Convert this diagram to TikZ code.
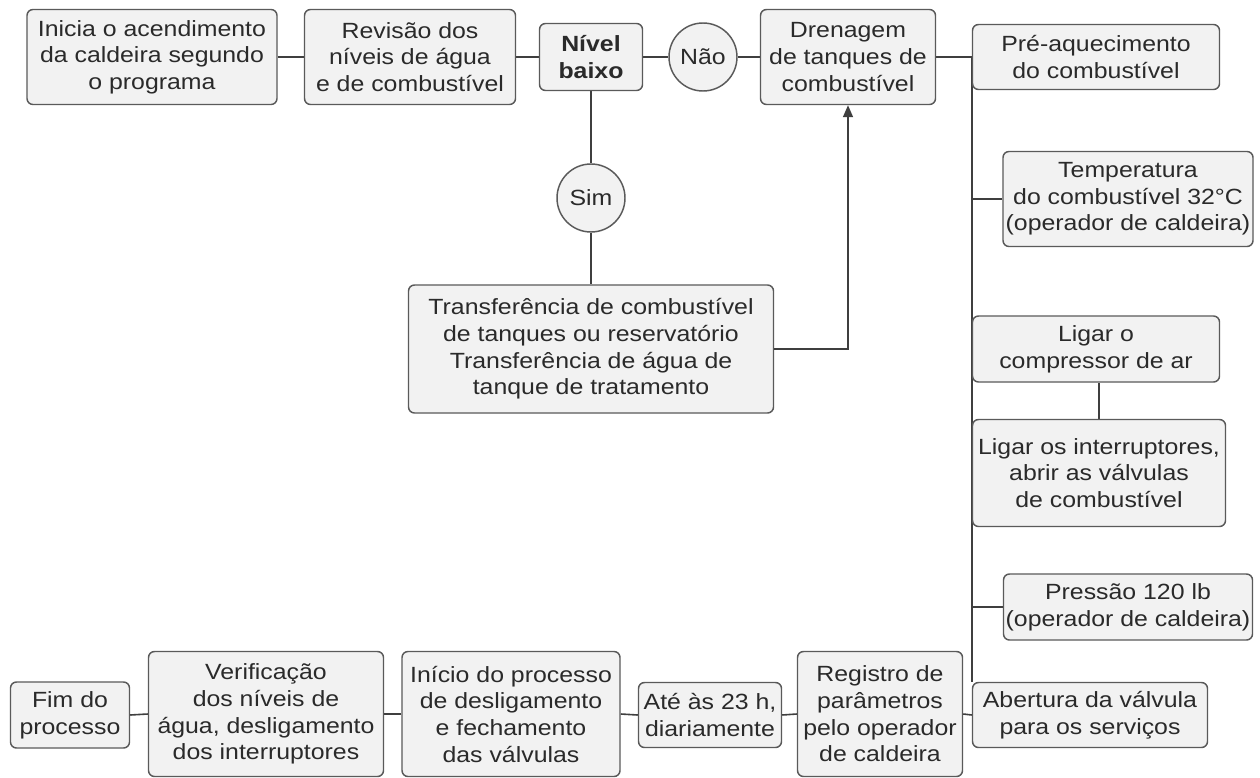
\documentclass[tikz,border=0pt]{standalone}
\usepackage{fontspec}
\setmainfont{Liberation Sans}[FakeStretch=1.13]
\usetikzlibrary{arrows.meta,backgrounds}
\newlength\pxl
\setlength\pxl{0.75pt}
\definecolor{boxfill}{HTML}{F2F2F2}
\definecolor{boxline}{HTML}{5A5A5A}
\definecolor{linkc}{HTML}{3F3F3F}
\definecolor{txtc}{HTML}{2A2A2A}
\begin{document}
\begin{tikzpicture}[x=0.75pt,y=-0.75pt,
  bx/.style={draw=boxline, fill=boxfill, rounded corners=4.5pt, line width=1.1pt,
    align=center, inner sep=0pt, text=txtc,
    font=\fontsize{16.5pt}{20pt}\selectfont},
  circ/.style={circle, draw=boxline, fill=boxfill, line width=1.1pt, inner sep=0pt,
    minimum size=68*\pxl, text=txtc, font=\fontsize{16.5pt}{20pt}\selectfont},
  link/.style={draw=linkc, line width=1.2pt},
  arrowlink/.style={link, -{Triangle[length=9pt,width=7.5pt]}}]
\useasboundingbox (0,0) rectangle (1260,778);

% top row
\node[bx, minimum width=250*\pxl, minimum height=95*\pxl] (b1) at (152,57)
  {Inicia o acendimento\\da caldeira segundo\\o programa};
\node[bx, minimum width=211*\pxl, minimum height=95*\pxl] (b2) at (410,57)
  {Revisão dos\\níveis de água\\e de combustível};
\node[bx, minimum width=103*\pxl, minimum height=67*\pxl] (nivel) at (591,57)
  {\bfseries Nível\\\bfseries baixo};
\node[circ] (nao) at (703,57) {Não};
\node[bx, minimum width=175*\pxl, minimum height=95*\pxl] (dren) at (848,57)
  {Drenagem\\de tanques de\\combustível};
\node[bx, minimum width=247*\pxl, minimum height=65*\pxl] (pre) at (1096,57)
  {Pré-aquecimento\\do combustível};

% yes branch
\node[circ] (sim) at (591,198) {Sim};
\node[bx, minimum width=365*\pxl, minimum height=128*\pxl] (transf) at (591,349)
  {Transferência de combustível\\de tanques ou reservatório\\Transferência de água de\\tanque de tratamento};

% right column
\node[bx, minimum width=250*\pxl, minimum height=95*\pxl] (temp) at (1128,199)
  {Temperatura\\do combustível 32°C\\(operador de caldeira)};
\node[bx, minimum width=247*\pxl, minimum height=66*\pxl] (comp) at (1096,349)
  {Ligar o\\compressor de ar};
\node[bx, minimum width=253*\pxl, minimum height=107*\pxl] (inter) at (1099,473)
  {Ligar os interruptores,\\abrir as válvulas\\de combustível};
\node[bx, minimum width=249*\pxl, minimum height=66*\pxl] (press) at (1128,607)
  {Pressão 120 lb\\(operador de caldeira)};

% bottom row
\node[bx, minimum width=235*\pxl, minimum height=65*\pxl] (abert) at (1090,715)
  {Abertura da válvula\\para os serviços};
\node[bx, minimum width=165*\pxl, minimum height=125*\pxl] (reg) at (880,714)
  {Registro de\\parâmetros\\pelo operador\\de caldeira};
\node[bx, minimum width=143*\pxl, minimum height=65*\pxl] (ate) at (710,715)
  {Até às 23 h,\\diariamente};
\node[bx, minimum width=218*\pxl, minimum height=125*\pxl] (inicio) at (511,714)
  {Início do processo\\de desligamento\\e fechamento\\das válvulas};
\node[bx, minimum width=235*\pxl, minimum height=125*\pxl] (verif) at (266,714)
  {Verificação\\dos níveis de\\água, desligamento\\dos interruptores};
\node[bx, minimum width=119*\pxl, minimum height=66*\pxl] (fim) at (70,715)
  {Fim do\\processo};

\begin{scope}[on background layer]
  \fill[white] (0,0) rectangle (1260,778);
  % top row links
  \draw[link] (b1.east) -- (b2.west);
  \draw[link] (b2.east) -- (nivel.west);
  \draw[link] (nivel.east) -- (nao.west);
  \draw[link] (nao.east) -- (dren.west);
  \draw[link] (dren.east) -- (pre.west);
  % vertical spine on the right
  \coordinate (spinetop) at (pre.west);
  \coordinate (spinebot) at (spinetop |- abert.north);
  \draw[link] (spinetop) -- (spinebot);
  \draw[link] (temp.west) -- (temp.west -| spinetop);
  \draw[link] (press.west) -- (press.west -| spinetop);
  \draw[link] (inter.north) -- (inter.north |- comp.south);
  % yes branch
  \draw[link] (nivel.south) -- (sim.north);
  \draw[link] (sim.south) -- (transf.north);
  % bottom row links
  \draw[link] (abert.west) -- (reg.east);
  \draw[link] (reg.west) -- (ate.east);
  \draw[link] (ate.west) -- (inicio.east);
  \draw[link] (inicio.west) -- (verif.east);
  \draw[link] (verif.west) -- (fim.east);
\end{scope}
% return arrow
\coordinate (turn) at (dren.south |- transf.east);
\draw[arrowlink] (transf.east) -- (turn) -- (dren.south);
\end{tikzpicture}
\end{document}
